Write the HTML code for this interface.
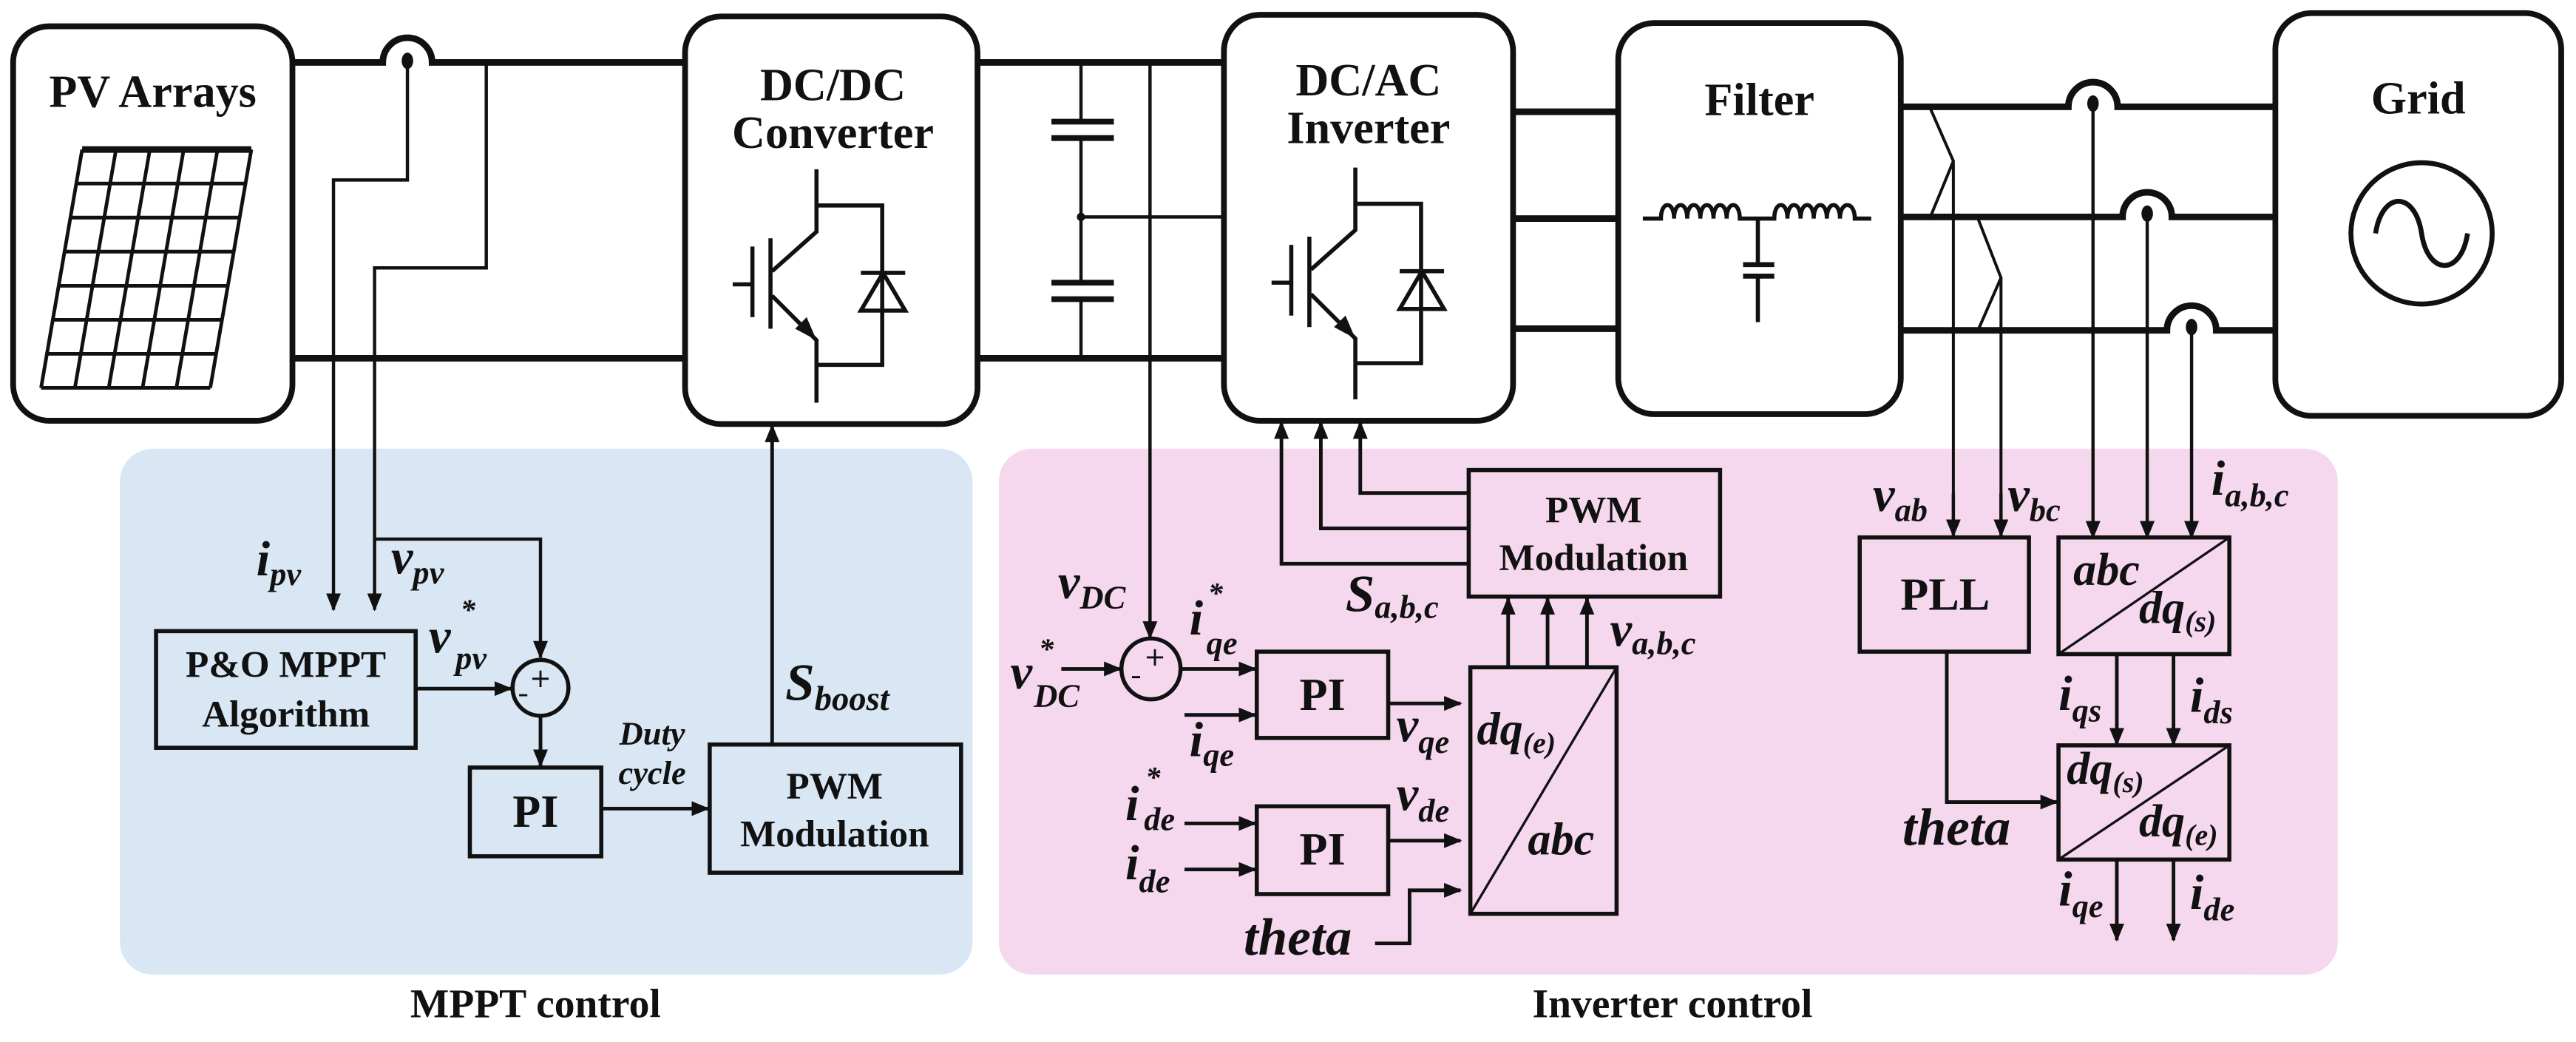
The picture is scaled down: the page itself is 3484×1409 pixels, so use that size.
<!DOCTYPE html>
<html><head><meta charset="utf-8"><style>
html,body{margin:0;padding:0;background:#fff}
svg{display:block}
text{font-family:"Liberation Serif",serif;font-weight:bold;fill:#111}
.it{font-style:italic}
</style></head><body>
<svg width="3484" height="1409" viewBox="0 0 1568 634" preserveAspectRatio="none" xmlns="http://www.w3.org/2000/svg">
<defs>
<marker id="a" markerUnits="userSpaceOnUse" markerWidth="11" markerHeight="9" refX="10" refY="4.5" orient="auto"><path d="M0,0 L11,4.5 L0,9 z" fill="#111"/></marker>
</defs>
<rect x="73" y="273" width="519" height="320" rx="20" fill="#d9e7f4"/>
<rect x="608" y="273" width="815" height="320" rx="20" fill="#f6d8ee"/>

<g fill="none" stroke="#111">
<rect x="8" y="16" width="170" height="240" rx="22" stroke-width="3.5"/>
<rect x="417" y="10" width="178" height="248" rx="22" stroke-width="3.5"/>
<rect x="745" y="9" width="176" height="247" rx="22" stroke-width="3.5"/>
<rect x="985" y="14" width="172" height="238" rx="22" stroke-width="3.5"/>
<rect x="1385" y="8" width="174" height="245" rx="22" stroke-width="3.5"/>

<g stroke-width="2.2">
<path d="M50,91 L25,236 M70.6,91 L45.6,236 M91.2,91 L66.2,236 M111.8,91 L86.8,236 M132.4,91 L107.4,236 M153,91 L128,236"/>
<path d="M50,91 H153 M46.4,111.7 H149.4 M42.9,132.4 H145.9 M39.3,153.1 H142.3 M35.7,173.9 H138.7 M32.1,194.6 H135.1 M28.6,215.3 H131.6 M25,236 H128"/>
</g>
<path d="M50,91 H153" stroke-width="4"/>

<path d="M178,38 H233 A15,15 0 0 1 263,38 H417" stroke-width="4"/>
<path d="M178,218 H417" stroke-width="4"/>
<path d="M595,38 H745 M595,218 H745" stroke-width="4"/>
<path d="M921,68 H985 M921,133 H985 M921,200 H985" stroke-width="4"/>
<path d="M1157,65 H1259 A15,15 0 0 1 1289,65 H1385" stroke-width="4"/>
<path d="M1157,132 H1292 A15,15 0 0 1 1322,132 H1385" stroke-width="4"/>
<path d="M1157,201 H1319 A15,15 0 0 1 1349,201 H1385" stroke-width="4"/>

<g stroke-width="2">
<path d="M248,38 V109.5 H203 V371" marker-end="url(#a)"/>
<path d="M296,38 V163 H228 V371" marker-end="url(#a)"/>
<path d="M228,328 H329 V400" marker-end="url(#a)"/>
</g>

<g stroke-width="2">
<path d="M658,38 V74 M658,84 V172 M658,182 V218"/>
<path d="M658,132 H745"/>
<path d="M700,38 V388" marker-end="url(#a)"/>
</g>
<path d="M640,74 H678 M640,84 H678 M640,172 H678 M640,182 H678" stroke-width="3.5"/>

<g stroke-width="2.5">
<path d="M497,103 V141 L470,165 M469,145 V200 M458,150 V193 M446,173 H458 M470,180 L497,207 V245"/>
<path d="M497,125 H537 V222 H497"/>
<path d="M524,166 H551 M524,189 H551 L537.5,166 Z"/>
</g>
<path d="M497,207 L484,200 L491,193 Z" fill="#111" stroke="none"/>
<g stroke-width="2.5">
<path d="M825,102 V140 L798,164 M797,144 V199 M786,149 V192 M774,172 H786 M798,179 L825,206 V243"/>
<path d="M825,124 H865 V221 H825"/>
<path d="M852,165 H879 M852,188 H879 L865.5,165 Z"/>
</g>
<path d="M825,206 L812,199 L819,192 Z" fill="#111" stroke="none"/>

<g stroke-width="2.5">
<path d="M1000,133 H1011 C1011,122 1019,122 1019,133 C1019,122 1027,122 1027,133 C1027,122 1035,122 1035,133 C1035,122 1043,122 1043,133 C1043,122 1051,122 1051,133 C1051,122 1059,122 1059,133 H1080 C1080,122 1088,122 1088,133 C1088,122 1096,122 1096,133 C1096,122 1104,122 1104,133 C1104,122 1112,122 1112,133 C1112,122 1120,122 1120,133 C1120,122 1129,122 1129,133 H1139"/>
<path d="M1070,133 V161 M1070,168 V196"/>
</g>
<path d="M1061,161 H1080 M1061,168 H1080" stroke-width="3"/>

<ellipse cx="1474" cy="142" rx="43" ry="43" stroke-width="3"/>
<path d="M1446,142 C1450,116 1470,116 1474,142 C1478,168 1498,168 1502,142" stroke-width="3"/>

<g stroke-width="1.8">
<path d="M1175,66 L1189,98 L1175,132 M1189,98 V326" />
<path d="M1204,133 L1218,169 L1204,201 M1218,169 V326"/>
</g>
<g stroke-width="2">
<path d="M1189,300 V326" marker-end="url(#a)"/>
<path d="M1218,300 V326" marker-end="url(#a)"/>
<path d="M1274,65 V327" marker-end="url(#a)"/>
<path d="M1307,132 V327" marker-end="url(#a)"/>
<path d="M1334,201 V327" marker-end="url(#a)"/>
</g>

<g stroke-width="2.5">
<rect x="95" y="384" width="158" height="71"/>
<rect x="286" y="467" width="80" height="54"/>
<rect x="432" y="453" width="153" height="78"/>
<ellipse cx="329" cy="418.5" rx="17" ry="17"/>
</g>
<g stroke-width="2.2">
<path d="M253,419 H311" marker-end="url(#a)"/>
<path d="M329,436 V466" marker-end="url(#a)"/>
<path d="M366,492 H431" marker-end="url(#a)"/>
<path d="M470,453 V259" marker-end="url(#a)"/>
</g>
<path d="M324,413 H334 M329,408 V418 M316,423 H321" stroke-width="1.3"/>

<g stroke-width="2.5">
<rect x="894" y="286" width="153" height="77"/>
<rect x="765" y="396.5" width="80" height="52.5"/>
<rect x="765" y="490.6" width="80" height="53.4"/>
<rect x="895" y="406" width="89" height="150"/>
<ellipse cx="700.6" cy="407" rx="18" ry="18.5"/>
<rect x="1132" y="327" width="103" height="69.5"/>
<rect x="1253" y="327" width="104" height="71"/>
<rect x="1253" y="453.5" width="104" height="69.5"/>
</g>
<path d="M895,556 L984,406 M1253,398 L1357,327 M1253,523 L1357,453.5" stroke-width="1.5"/>
<path d="M698,400 H708 M703,395 V405 M689,412 H694" stroke-width="1.3"/>
<g stroke-width="2.2">
<path d="M894,343 H780 V257" marker-end="url(#a)"/>
<path d="M894,321.5 H804 V257" marker-end="url(#a)"/>
<path d="M894,300 H828 V257" marker-end="url(#a)"/>
<path d="M918,406 V364" marker-end="url(#a)"/>
<path d="M942,406 V364" marker-end="url(#a)"/>
<path d="M966,406 V364" marker-end="url(#a)"/>
<path d="M646,407 H682" marker-end="url(#a)"/>
<path d="M719,407 H764" marker-end="url(#a)"/>
<path d="M721,435 H764" marker-end="url(#a)"/>
<path d="M845,428 H889" marker-end="url(#a)"/>
<path d="M721,501 H764" marker-end="url(#a)"/>
<path d="M721,529 H764" marker-end="url(#a)"/>
<path d="M845,511.5 H889" marker-end="url(#a)"/>
<path d="M837,574 H858 V541.7 H889" marker-end="url(#a)"/>
<path d="M1185,396.5 V488 H1252" marker-end="url(#a)"/>
<path d="M1288.5,398 V453" marker-end="url(#a)"/>
<path d="M1323,398 V453" marker-end="url(#a)"/>
<path d="M1288.5,523 V572" marker-end="url(#a)"/>
<path d="M1323,523 V572" marker-end="url(#a)"/>
</g>
</g>
<g fill="#111">
<ellipse cx="248" cy="37" rx="3.5" ry="5"/>
<ellipse cx="1274" cy="63" rx="3.5" ry="5"/>
<ellipse cx="1307" cy="130" rx="3.5" ry="5"/>
<ellipse cx="1334" cy="199" rx="3.5" ry="5"/>
<circle cx="658" cy="132" r="2.5"/>
</g>

<g text-anchor="middle" font-size="28">
<text x="93" y="65">PV Arrays</text>
<text x="507" y="61">DC/DC</text>
<text x="507" y="90">Converter</text>
<text x="833" y="58">DC/AC</text>
<text x="833" y="87">Inverter</text>
<text x="1071" y="70">Filter</text>
<text x="1472" y="69">Grid</text>
</g>
<g text-anchor="middle" font-size="23">
<text x="174" y="412">P&amp;O MPPT</text>
<text x="174" y="442">Algorithm</text>
<text x="326" y="503" font-size="28">PI</text>
<text x="508" y="486">PWM</text>
<text x="508" y="515">Modulation</text>
<text x="970" y="318">PWM</text>
<text x="970" y="347">Modulation</text>
<text x="805" y="432" font-size="28">PI</text>
<text x="805" y="526" font-size="28">PI</text>
<text x="1184" y="371" font-size="28">PLL</text>
</g>
<text x="326" y="619" text-anchor="middle" font-size="25">MPPT control</text>
<text x="1018" y="619" text-anchor="middle" font-size="25">Inverter control</text>

<g class="it" font-size="30">
<text x="156" y="350">i<tspan font-size="20" dy="6">pv</tspan></text>
<text x="238" y="349">v<tspan font-size="20" dy="6">pv</tspan></text>
<text x="261" y="397">v<tspan font-size="18" dy="-20" dx="6">*</tspan><tspan font-size="20" dy="30" dx="-12">pv</tspan></text>
<text x="478" y="426" font-size="32">S<tspan font-size="21" dy="6">boost</tspan></text>
<text x="397" y="453" font-size="20" text-anchor="middle">Duty</text>
<text x="397" y="477" font-size="20" text-anchor="middle">cycle</text>

<text x="644" y="364">v<tspan font-size="20" dy="6">DC</tspan></text>
<text x="615" y="419">v<tspan font-size="18" dy="-18" dx="4">*</tspan><tspan font-size="20" dy="29" dx="-12">DC</tspan></text>
<text x="724" y="386">i<tspan font-size="18" dy="-19" dx="3">*</tspan><tspan font-size="20" dy="31" dx="-10">qe</tspan></text>
<text x="724" y="460">i<tspan font-size="20" dy="6">qe</tspan></text>
<text x="685" y="499">i<tspan font-size="18" dy="-20" dx="4">*</tspan><tspan font-size="20" dy="26" dx="-10">de</tspan></text>
<text x="685" y="535">i<tspan font-size="20" dy="8">de</tspan></text>
<text x="850" y="451">v<tspan font-size="20" dy="7">qe</tspan></text>
<text x="850" y="493">v<tspan font-size="20" dy="7">de</tspan></text>
<text x="757" y="581" font-size="32">theta</text>
<text x="819" y="372" font-size="32">S<tspan font-size="20" dy="4">a,b,c</tspan></text>
<text x="980" y="393">v<tspan font-size="20" dy="5">a,b,c</tspan></text>
<text x="899" y="453" font-size="28">dq<tspan font-size="18" dy="5">(e)</tspan></text>
<text x="930" y="520" font-size="28">abc</text>
<text x="1140" y="311">v<tspan font-size="20" dy="6">ab</tspan></text>
<text x="1222" y="311">v<tspan font-size="20" dy="6">bc</tspan></text>
<text x="1346" y="301">i<tspan font-size="20" dy="7">a,b,c</tspan></text>
<text x="1262" y="356" font-size="28">abc</text>
<text x="1302" y="379" font-size="28">dq<tspan font-size="18" dy="5">(s)</tspan></text>
<text x="1258" y="477" font-size="28">dq<tspan font-size="18" dy="5">(s)</tspan></text>
<text x="1302" y="509" font-size="28">dq<tspan font-size="18" dy="5">(e)</tspan></text>
<text x="1253" y="432">i<tspan font-size="20" dy="7">qs</tspan></text>
<text x="1333" y="433">i<tspan font-size="20" dy="7">ds</tspan></text>
<text x="1158" y="514" font-size="32">theta</text>
<text x="1253" y="551">i<tspan font-size="20" dy="7">qe</tspan></text>
<text x="1333" y="553">i<tspan font-size="20" dy="7">de</tspan></text>
</g>
</svg>
</body></html>
